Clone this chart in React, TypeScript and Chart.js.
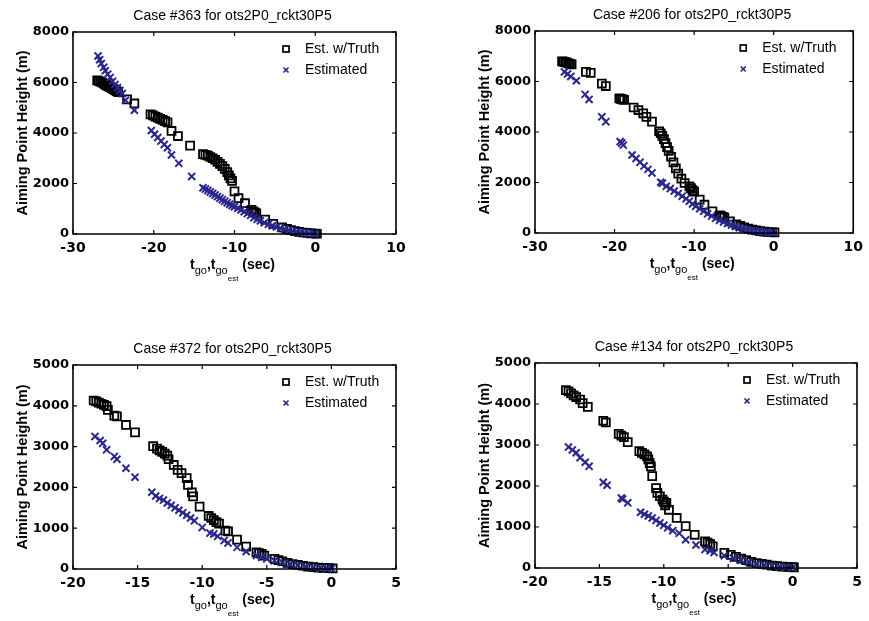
import React, { useEffect, useRef } from "react";
import { Chart, registerables } from "chart.js";

Chart.register(...registerables);

const SERIES_TRUTH = "Est. w/Truth";
const SERIES_EST = "Estimated";
const Y_TITLE = "Aiming Point Height (m)";
const RUN_NAME = "ots2P0_rckt30P5";

// ---- Case #363 ----
const case363TruthX = [-27.0, -26.8, -26.6, -26.4, -26.2, -26.0, -25.8, -25.6, -25.4, -25.2, -25.0, -24.8, -24.6, -24.4, -23.3, -22.4, -20.4, -20.1, -19.8, -19.5, -19.2, -18.9, -18.6, -18.3, -17.8, -17.0, -15.5, -13.9, -13.6, -13.3, -13.0, -12.7, -12.4, -12.1, -11.8, -11.5, -11.2, -10.9, -10.7, -10.5, -10.3, -10.0, -9.5, -8.7, -7.9, -7.7, -7.5, -7.3, -6.2, -5.2, -4.1, -3.5, -3.0, -2.5, -2.0, -1.5, -1.0, -0.5, 0.0, 0.2];
const case363TruthY = [6080, 6060, 6030, 6000, 5960, 5920, 5880, 5850, 5820, 5780, 5740, 5700, 5660, 5620, 5330, 5170, 4740, 4700, 4650, 4610, 4560, 4520, 4470, 4420, 4080, 3880, 3500, 3160, 3130, 3100, 3050, 3000, 2940, 2860, 2780, 2690, 2580, 2450, 2320, 2200, 2100, 1690, 1420, 1220, 960, 900, 860, 820, 570, 400, 260, 200, 150, 110, 80, 60, 40, 25, 20, 10];
const case363EstX = [-26.9, -26.7, -26.5, -26.2, -26.0, -25.7, -25.4, -25.1, -24.8, -24.5, -24.2, -23.9, -23.5, -22.4, -20.3, -19.9, -19.5, -19.1, -18.7, -18.3, -17.8, -16.9, -15.3, -13.9, -13.6, -13.3, -13.0, -12.7, -12.4, -12.1, -11.8, -11.5, -11.2, -10.9, -10.6, -10.3, -10.0, -9.6, -9.2, -8.8, -8.4, -8.0, -7.6, -7.2, -6.8, -6.3, -5.8, -5.3, -4.8, -4.3, -3.8, -3.3, -2.8, -2.3, -1.8, -1.3, -0.8, -0.3, 0.0];
const case363EstY = [7050, 6900, 6750, 6600, 6470, 6330, 6200, 6050, 5920, 5800, 5680, 5560, 5300, 4900, 4100, 3950, 3820, 3680, 3540, 3420, 3130, 2800, 2280, 1830, 1780, 1720, 1660, 1600, 1540, 1480, 1420, 1360, 1300, 1240, 1180, 1130, 1080, 1020, 950, 880, 810, 740, 640, 580, 520, 450, 390, 330, 280, 230, 190, 150, 115, 90, 70, 45, 30, 15, 10];

// ---- Case #206 ----
const case206TruthX = [-26.6, -26.4, -26.2, -26.0, -25.8, -25.6, -25.4, -23.6, -23.0, -21.6, -21.1, -19.4, -19.2, -19.0, -18.8, -17.6, -17.0, -16.4, -16.0, -15.3, -14.4, -14.2, -14.0, -13.8, -13.6, -13.4, -13.2, -12.9, -12.6, -12.3, -12.0, -11.6, -11.2, -10.6, -10.4, -10.2, -10.0, -9.3, -8.7, -7.7, -6.8, -6.6, -6.4, -6.2, -5.5, -4.7, -4.2, -3.7, -3.2, -2.7, -2.2, -1.7, -1.2, -0.7, -0.2, 0.1];
const case206TruthY = [6800, 6790, 6770, 6750, 6720, 6700, 6680, 6380, 6340, 5920, 5820, 5330, 5310, 5290, 5270, 4970, 4870, 4740, 4600, 4410, 4030, 3950, 3850, 3720, 3560, 3400, 3250, 3020, 2800, 2560, 2350, 2150, 1980, 1850, 1780, 1700, 1640, 1320, 1120, 860, 700, 670, 640, 610, 460, 340, 280, 220, 170, 130, 100, 75, 55, 40, 30, 25];
const case206EstX = [-26.3, -25.9, -25.5, -24.8, -23.7, -23.2, -21.6, -21.1, -19.3, -19.1, -18.9, -17.8, -17.3, -16.8, -16.3, -15.8, -15.3, -14.2, -14.0, -13.5, -13.0, -12.5, -12.0, -11.5, -11.0, -10.6, -10.2, -9.8, -9.3, -8.8, -8.3, -7.8, -7.3, -6.8, -6.3, -5.8, -5.3, -4.8, -4.3, -3.8, -3.3, -2.8, -2.3, -1.8, -1.3, -0.8, -0.3, 0.0];
const case206EstY = [6380, 6300, 6200, 6030, 5490, 5290, 4600, 4410, 3620, 3560, 3480, 3090, 2950, 2800, 2650, 2520, 2380, 2010, 1970, 1850, 1760, 1660, 1560, 1460, 1360, 1260, 1150, 1060, 960, 860, 760, 670, 580, 500, 440, 380, 320, 260, 210, 170, 130, 100, 80, 60, 40, 30, 20, 15];

// ---- Case #372 ----
const case372TruthX = [-18.4, -18.2, -18.0, -17.8, -17.6, -17.4, -17.3, -16.8, -16.6, -15.9, -15.2, -13.8, -13.5, -13.3, -13.1, -12.9, -12.7, -12.6, -12.2, -11.9, -11.6, -11.2, -11.1, -10.8, -10.7, -10.2, -9.5, -9.3, -9.1, -8.9, -8.7, -8.2, -8.0, -7.3, -6.6, -5.8, -5.6, -5.4, -5.2, -4.4, -4.1, -3.8, -3.4, -3.0, -2.6, -2.2, -1.8, -1.4, -1.0, -0.6, -0.2, 0.1];
const case372TruthY = [4130, 4110, 4080, 4050, 4020, 3990, 3900, 3760, 3740, 3530, 3350, 3010, 2950, 2910, 2870, 2830, 2780, 2690, 2550, 2430, 2350, 2230, 2060, 1880, 1780, 1530, 1300, 1250, 1200, 1150, 1110, 940, 920, 720, 550, 410, 390, 370, 330, 250, 220, 190, 150, 120, 100, 80, 60, 45, 35, 25, 20, 15];
const case372EstX = [-18.3, -17.9, -17.7, -17.4, -16.8, -16.6, -15.9, -15.2, -13.9, -13.6, -13.3, -13.0, -12.7, -12.4, -12.1, -11.8, -11.5, -11.2, -10.9, -10.6, -10.0, -9.4, -9.1, -8.8, -8.3, -8.0, -7.3, -6.6, -5.8, -5.4, -5.0, -4.4, -3.8, -3.2, -2.6, -2.0, -1.4, -0.8, -0.3, 0.0];
const case372EstY = [3250, 3150, 3080, 2920, 2760, 2690, 2470, 2250, 1880, 1790, 1730, 1690, 1620, 1560, 1500, 1440, 1380, 1320, 1250, 1180, 1020, 880, 860, 800, 700, 640, 530, 430, 330, 290, 250, 200, 160, 120, 90, 60, 40, 25, 15, 10];

// ---- Case #134 ----
const case134TruthX = [-17.6, -17.4, -17.2, -17.0, -16.8, -16.5, -16.3, -15.9, -14.7, -14.5, -13.5, -13.3, -13.1, -12.8, -11.9, -11.7, -11.5, -11.3, -11.2, -11.1, -11.0, -10.9, -10.6, -10.5, -10.3, -10.1, -10.0, -9.9, -9.8, -9.6, -9.0, -8.3, -7.6, -6.8, -6.6, -6.4, -6.2, -5.3, -4.8, -4.4, -4.0, -3.6, -3.2, -2.8, -2.4, -2.0, -1.6, -1.2, -0.8, -0.4, 0.0, 0.1];
const case134TruthY = [4340, 4310, 4260, 4210, 4170, 4110, 4020, 3930, 3590, 3550, 3270, 3230, 3190, 3070, 2850, 2810, 2770, 2720, 2650, 2560, 2480, 2240, 1950, 1830, 1750, 1670, 1620, 1530, 1590, 1420, 1220, 1020, 810, 650, 620, 580, 530, 370, 320, 270, 230, 190, 150, 120, 100, 80, 60, 45, 35, 25, 20, 15];
const case134EstX = [-17.4, -17.1, -16.8, -16.5, -16.1, -15.8, -14.7, -14.4, -13.3, -13.2, -12.8, -11.8, -11.5, -11.2, -10.9, -10.6, -10.3, -10.0, -9.7, -9.3, -8.8, -8.3, -7.5, -6.8, -6.4, -6.1, -5.3, -4.6, -4.0, -3.4, -2.8, -2.2, -1.6, -1.0, -0.5, 0.0];
const case134EstY = [2950, 2880, 2810, 2690, 2580, 2480, 2090, 2020, 1710, 1680, 1590, 1360, 1310, 1270, 1220, 1160, 1100, 1040, 980, 910, 850, 690, 560, 450, 420, 380, 300, 240, 190, 140, 100, 70, 50, 30, 20, 10];

const BLUE = "#28288c";
const X_TICK_FONT = { family: "'DejaVu Sans', sans-serif", size: 14, weight: "bold" as const };
const Y_TICK_FONT = { family: "'DejaVu Sans', sans-serif", size: 13, weight: "bold" as const };
const SANS = "'Liberation Sans', Arial, sans-serif";

type Panel = {
  caseNo: string;
  truthX: number[];
  truthY: number[];
  estX: number[];
  estY: number[];
  xMin: number;
  xMax: number;
  xStep: number;
  yMax: number;
  yStep: number;
  left: number;
  top: number;
  width: number;
  height: number;
  areaL: number;
  areaT: number;
  areaR: number;
  areaB: number;
};

const panels: Panel[] = [
  { caseNo: "363", truthX: case363TruthX, truthY: case363TruthY, estX: case363EstX, estY: case363EstY, xMin: -30, xMax: 10, xStep: 10, yMax: 8000, yStep: 2000, left: 0, top: 0, width: 435, height: 300, areaL: 73, areaT: 32, areaR: 396, areaB: 234 },
  { caseNo: "206", truthX: case206TruthX, truthY: case206TruthY, estX: case206EstX, estY: case206EstY, xMin: -30, xMax: 10, xStep: 10, yMax: 8000, yStep: 2000, left: 462, top: 0, width: 407, height: 300, areaL: 73, areaT: 31, areaR: 395, areaB: 233 },
  { caseNo: "372", truthX: case372TruthX, truthY: case372TruthY, estX: case372EstX, estY: case372EstY, xMin: -20, xMax: 5, xStep: 5, yMax: 5000, yStep: 1000, left: 0, top: 300, width: 435, height: 321, areaL: 73, areaT: 65, areaR: 396, areaB: 269 },
  { caseNo: "134", truthX: case134TruthX, truthY: case134TruthY, estX: case134EstX, estY: case134EstY, xMin: -20, xMax: 5, xStep: 5, yMax: 5000, yStep: 1000, left: 462, top: 300, width: 407, height: 321, areaL: 73, areaT: 63, areaR: 395, areaB: 268 },
];

const toPoints = (xs: number[], ys: number[]) => xs.map((x, i) => ({ x, y: ys[i] }));

const decorPlugin = {
  id: "decor",
  afterDraw(chart: any, _args: any, opts: any) {
    const ctx: CanvasRenderingContext2D = chart.ctx;
    const a = chart.chartArea;
    const xs = chart.scales.x;
    const ys = chart.scales.y;
    ctx.save();
    // box
    ctx.strokeStyle = "#000";
    ctx.lineWidth = 1.6;
    ctx.beginPath();
    ctx.rect(a.left, a.top, a.right - a.left, a.bottom - a.top);
    ctx.stroke();
    // inward ticks on all sides
    const TL = 4;
    ctx.lineWidth = 1.2;
    ctx.beginPath();
    for (const t of xs.ticks) {
      const p = xs.getPixelForValue(t.value);
      ctx.moveTo(p, a.bottom);
      ctx.lineTo(p, a.bottom - TL);
      ctx.moveTo(p, a.top);
      ctx.lineTo(p, a.top + TL);
    }
    for (const t of ys.ticks) {
      const p = ys.getPixelForValue(t.value);
      ctx.moveTo(a.left, p);
      ctx.lineTo(a.left + TL, p);
      ctx.moveTo(a.right, p);
      ctx.lineTo(a.right - TL, p);
    }
    ctx.stroke();

    const cx = (a.left + a.right) / 2 - 2;
    // title
    ctx.fillStyle = "#000";
    ctx.font = `14px ${SANS}`;
    ctx.textAlign = "center";
    ctx.textBaseline = "alphabetic";
    ctx.fillText(opts.title, cx, a.top - 12);

    // legend
    const r1 = a.top + 17;
    const r2 = a.top + 38;
    const mx = a.right - 110;
    const tx = a.right - 91;
    ctx.strokeStyle = "#000";
    ctx.lineWidth = 1.7;
    ctx.strokeRect(mx - 3, r1 - 3, 6, 6);
    ctx.strokeStyle = BLUE;
    ctx.lineWidth = 1.7;
    ctx.beginPath();
    ctx.moveTo(mx - 2.5, r2 - 2.5);
    ctx.lineTo(mx + 2.5, r2 + 2.5);
    ctx.moveTo(mx - 2.5, r2 + 2.5);
    ctx.lineTo(mx + 2.5, r2 - 2.5);
    ctx.stroke();
    ctx.fillStyle = "#000";
    ctx.font = `14px ${SANS}`;
    ctx.textAlign = "left";
    ctx.textBaseline = "middle";
    ctx.fillText(SERIES_TRUTH, tx, r1);
    ctx.fillText(SERIES_EST, tx, r2);

    // x-axis title with subscripts: t_go, t_go_est (sec)
    const parts = [
      { t: "t", f: `bold 14px ${SANS}`, dy: 0 },
      { t: "go", f: `11px ${SANS}`, dy: 5 },
      { t: ",", f: `bold 14px ${SANS}`, dy: 0 },
      { t: "t", f: `bold 14px ${SANS}`, dy: 0 },
      { t: "go", f: `11px ${SANS}`, dy: 5 },
      { t: "est", f: `8px ${SANS}`, dy: 12 },
      { t: " (sec)", f: `bold 14px ${SANS}`, dy: 0 },
    ];
    ctx.textBaseline = "alphabetic";
    let total = 0;
    const widths = parts.map((p) => {
      ctx.font = p.f;
      const w = ctx.measureText(p.t).width;
      total += w;
      return w;
    });
    let x = cx - total / 2;
    const base = a.bottom + 35;
    parts.forEach((p, i) => {
      ctx.font = p.f;
      ctx.fillText(p.t, x, base + p.dy);
      x += widths[i];
    });
    ctx.restore();
  },
};

function PanelChart({ cfg }: { cfg: Panel }) {
  const ref = useRef<HTMLCanvasElement>(null);
  useEffect(() => {
    const chart = new Chart(ref.current as HTMLCanvasElement, {
      type: "scatter",
      data: {
        datasets: [
          {
            label: SERIES_TRUTH,
            data: toPoints(cfg.truthX, cfg.truthY),
            pointStyle: "rect",
            pointRadius: 5.6,
            pointHoverRadius: 5.6,
            borderColor: "#000",
            backgroundColor: "rgba(0,0,0,0)",
            borderWidth: 1.8,
            pointBorderWidth: 1.8,
            clip: false,
            order: 1,
          } as any,
          {
            label: SERIES_EST,
            data: toPoints(cfg.estX, cfg.estY),
            pointStyle: "crossRot",
            pointRadius: 5,
            pointHoverRadius: 5,
            borderColor: BLUE,
            backgroundColor: BLUE,
            borderWidth: 2,
            pointBorderWidth: 2,
            clip: false,
            order: 0,
          } as any,
        ],
      },
      options: {
        responsive: false,
        animation: false,
        events: [],
        layout: { padding: { left: 0, top: cfg.areaT, right: cfg.width - cfg.areaR, bottom: 0 } },
        plugins: {
          legend: { display: false },
          tooltip: { enabled: false },
          decor: { title: `Case #${cfg.caseNo} for ${RUN_NAME}` },
        } as any,
        scales: {
          x: {
            type: "linear",
            position: "bottom",
            min: cfg.xMin,
            max: cfg.xMax,
            grid: { display: false, drawTicks: false },
            border: { display: false },
            ticks: {
              stepSize: cfg.xStep,
              font: X_TICK_FONT,
              color: "#000",
              padding: 6,
              maxRotation: 0,
              autoSkip: false,
              callback: (v: any) => String(v),
            },
            afterFit: (s: any) => {
              s.height = cfg.height - cfg.areaB;
            },
          },
          y: {
            type: "linear",
            min: 0,
            max: cfg.yMax,
            grid: { display: false, drawTicks: false },
            border: { display: false },
            ticks: {
              stepSize: cfg.yStep,
              font: Y_TICK_FONT,
              color: "#000",
              padding: 4,
              autoSkip: false,
              callback: (v: any) => String(v),
            },
            title: {
              display: true,
              text: Y_TITLE,
              color: "#000",
              font: { family: SANS, size: 14.5, weight: "bold" },
              padding: { top: 14, bottom: 0 },
            },
            afterFit: (s: any) => {
              s.width = cfg.areaL;
            },
          },
        },
      } as any,
      plugins: [decorPlugin as any],
    });
    return () => chart.destroy();
  }, [cfg]);
  return (
    <canvas
      ref={ref}
      width={cfg.width}
      height={cfg.height}
      style={{ position: "absolute", left: cfg.left, top: cfg.top, width: cfg.width, height: cfg.height }}
    />
  );
}

export default function App() {
  return (
    <div style={{ position: "fixed", left: 0, top: 0, width: 869, height: 621, background: "#fff", overflow: "hidden" }}>
      {panels.map((p) => (
        <PanelChart key={p.caseNo} cfg={p} />
      ))}
    </div>
  );
}
